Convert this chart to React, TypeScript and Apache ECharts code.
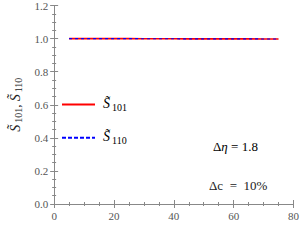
import React, { useEffect, useRef } from "react";
import * as echarts from "echarts";

const xValues = [5, 10, 15, 20, 25, 30, 35, 40, 45, 50, 55, 60, 65, 70, 75];
const s101 = [1.0, 1.0, 1.0, 0.9995, 0.9995, 0.999, 0.999, 0.999, 0.9985, 0.9985, 0.998, 0.998, 0.998, 0.9975, 0.9975];
const s110 = [1.0, 1.0, 1.0, 0.9995, 0.9995, 0.999, 0.999, 0.999, 0.9985, 0.9985, 0.998, 0.998, 0.998, 0.9975, 0.9975];
const seriesNames = ["S101", "S110"];

const FONT = "Times New Roman";
const GRAY = "#555";
const RED = "#ff0000";
const BLUE = "#0000ff";

export default function App() {
  const ref = useRef<HTMLDivElement>(null);
  useEffect(() => {
    const chart = echarts.init(ref.current!, null, { renderer: "svg" });
    const rich = {
      s: { fontFamily: FONT, fontStyle: "italic", fontSize: 14, color: "#222" },
      sub: { fontFamily: FONT, fontSize: 10, color: "#222", verticalAlign: "bottom", padding: [7, 0, 0, 2] },
      c: { fontFamily: FONT, fontSize: 13, color: "#222" },
    };
    const axisCommon = {
      axisLine: { show: true, lineStyle: { color: "#888", width: 1 } },
      axisTick: { show: true, inside: true, length: 4, lineStyle: { color: "#888" } },
      minorTick: { show: true, splitNumber: 4, length: 2, lineStyle: { color: "#888" } },
      splitLine: { show: false },
    };
    const chartTop = 5, chartBottom = 204;
    const yPix = (v: number) => chartBottom - (v / 1.2) * (chartBottom - chartTop);
    chart.setOption({
      animation: false,
      textStyle: { fontFamily: FONT },
      grid: { left: 47, right: 7, top: chartTop, bottom: 245 - chartBottom },
      xAxis: [
        {
          type: "value", min: 0, max: 80, interval: 20, position: "bottom",
          ...axisCommon,
          axisLabel: { fontFamily: FONT, fontSize: 11, color: GRAY, margin: 6 },
        },
        {
          type: "value", min: 0, max: 80, interval: 20, position: "top",
          ...axisCommon, axisLabel: { show: false },
        },
      ],
      yAxis: [
        {
          type: "value", min: 0, max: 1.2, interval: 0.2, position: "left",
          ...axisCommon,
          axisLabel: { fontFamily: FONT, fontSize: 11, color: GRAY, margin: 6, formatter: (v: number) => v.toFixed(1) },
          name: "{s|S̃}{sub|101}{c|, }{s|S̃}{sub|110}",
          nameLocation: "middle",
          nameGap: 28,
          nameTextStyle: { rich },
        },
        {
          type: "value", min: 0, max: 1.2, interval: 0.2, position: "right",
          ...axisCommon, axisLabel: { show: false },
        },
      ],
      series: [
        {
          name: seriesNames[0], type: "line", showSymbol: false, symbol: "none",
          data: xValues.map((x, i) => [x, s101[i]]),
          lineStyle: { color: RED, width: 1.6, type: "solid" },
          itemStyle: { color: RED },
        },
        {
          name: seriesNames[1], type: "line", showSymbol: false, symbol: "none",
          data: xValues.map((x, i) => [x, s110[i]]),
          lineStyle: { color: BLUE, width: 1.2, type: [3, 3] },
          itemStyle: { color: BLUE },
        },
      ],
      graphic: [
        { type: "line", shape: { x1: 62, y1: yPix(0.6), x2: 95, y2: yPix(0.6) }, style: { stroke: RED, lineWidth: 2 } },
        { type: "line", shape: { x1: 62, y1: yPix(0.4), x2: 95, y2: yPix(0.4) }, style: { stroke: BLUE, lineWidth: 2, lineDash: [4, 2] } },
        { type: "text", left: 103, top: yPix(0.6) - 8, style: { text: "{s|S̃}{sub|101}", rich } },
        { type: "text", left: 103, top: yPix(0.4) - 8, style: { text: "{s|S̃}{sub|110}", rich } },
        {
          type: "text", left: 213, top: 140,
          style: {
            text: "{c|Δ}{s|η}{c| = 1.8}",
            rich: { c: { fontFamily: FONT, fontSize: 13, color: "#222" }, s: { fontFamily: FONT, fontSize: 13, fontStyle: "italic", color: "#222" } },
          },
        },
        {
          type: "text", left: 209, top: 179,
          style: { text: "Δc  =  10%", fontFamily: FONT, fontSize: 13, fill: "#222" },
        },
      ],
    });
    return () => chart.dispose();
  }, []);
  return <div ref={ref} style={{ width: 302, height: 245, position: "absolute", left: 0, top: 0 }} />;
}
